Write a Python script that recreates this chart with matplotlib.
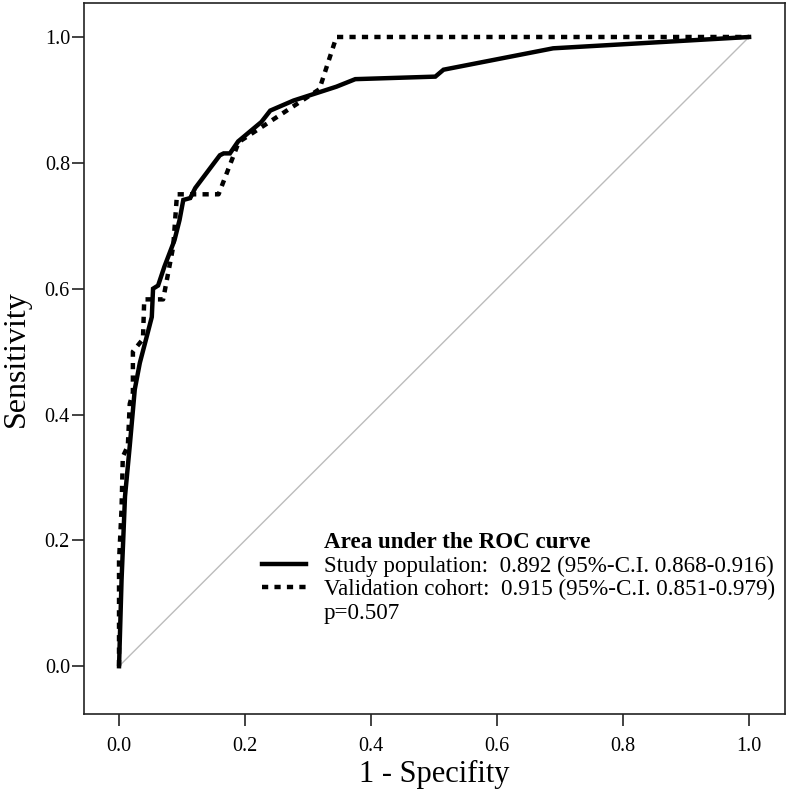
import matplotlib
matplotlib.use('Agg')
import matplotlib.pyplot as plt
from matplotlib.lines import Line2D

plt.rcParams['font.family'] = ['Liberation Serif', 'DejaVu Serif']

# ROC curve of the study population (1 - specificity, sensitivity)
study_fpr = [0.0, 0.004, 0.0095, 0.017, 0.025, 0.033, 0.044, 0.052, 0.054, 0.062,
             0.072, 0.088, 0.096, 0.102, 0.113, 0.121, 0.160, 0.166, 0.176, 0.189,
             0.226, 0.240, 0.277, 0.345, 0.375, 0.502, 0.515, 0.689, 1.0]
study_tpr = [0.0, 0.137, 0.27, 0.35, 0.44, 0.482, 0.524, 0.555, 0.600, 0.605,
             0.635, 0.677, 0.709, 0.741, 0.744, 0.760, 0.812, 0.815, 0.815, 0.834,
             0.865, 0.883, 0.899, 0.921, 0.933, 0.937, 0.948, 0.982, 1.0]

# ROC curve of the validation cohort
valid_fpr = [0.0, 0.0, 0.004, 0.006, 0.014, 0.017, 0.022, 0.022, 0.038, 0.040,
             0.070, 0.086, 0.092, 0.158, 0.190, 0.318, 0.345, 1.0]
valid_tpr = [0.0, 0.167, 0.25, 0.333, 0.35, 0.417, 0.435, 0.5, 0.52, 0.583,
             0.583, 0.667, 0.75, 0.75, 0.833, 0.917, 1.0, 1.0]

ticks = [0.0, 0.2, 0.4, 0.6, 0.8, 1.0]
tick_labels = ['0.0', '0.2', '0.4', '0.6', '0.8', '1.0']

legend_title = 'Area under the ROC curve'
study_label = 'Study population:  0.892 (95%-C.I. 0.868-0.916)'
valid_label = 'Validation cohort:  0.915 (95%-C.I. 0.851-0.979)'
p_label = 'p=0.507'

fig = plt.figure(figsize=(7.88, 7.91), dpi=100)
ax = fig.add_axes([0.1066, 0.0973, 0.8896, 0.8989])

ax.plot([0, 1], [0, 1], color='#bcbcbc', lw=1.0, zorder=1)
ax.plot(study_fpr, study_tpr, color='black', lw=3.2, zorder=3,
        solid_joinstyle='miter')
ax.plot(valid_fpr, valid_tpr, color='black', lw=3.2, zorder=2,
        linestyle=(0, (1.4, 1.4)), dash_capstyle='butt')

ax.set_xlim(-0.0556, 1.057)
ax.set_ylim(-0.076, 1.054)
ax.set_xticks(ticks)
ax.set_xticklabels(tick_labels)
ax.set_yticks(ticks)
ax.set_yticklabels(tick_labels)
ax.tick_params(direction='out', length=8.6, width=1.2, labelsize=14.5,
               color='#222222')
ax.tick_params(axis='x', pad=8)
ax.tick_params(axis='y', pad=1.5)
for s in ax.spines.values():
    s.set_linewidth(1.2)
    s.set_color('#222222')

ax.set_xlabel('1 - Specifity', fontsize=22, labelpad=3)
ax.set_ylabel('Sensitivity', fontsize=23, labelpad=10)

blank = Line2D([], [], color='none')
h_study = Line2D([], [], color='black', lw=3.2)
h_valid = Line2D([], [], color='black', lw=3.2, linestyle=(0, (1.4, 1.4)))
leg = ax.legend([blank, h_study, h_valid, blank],
                [legend_title, study_label, valid_label, p_label],
                loc='upper left', bbox_to_anchor=(0.254, 0.256),
                frameon=False, fontsize=16.6, handlelength=1.91,
                handletextpad=0.78, labelspacing=0.1, borderpad=0,
                borderaxespad=0)
leg.get_texts()[0].set_fontweight('bold')

fig.savefig('out.png', dpi=100)
